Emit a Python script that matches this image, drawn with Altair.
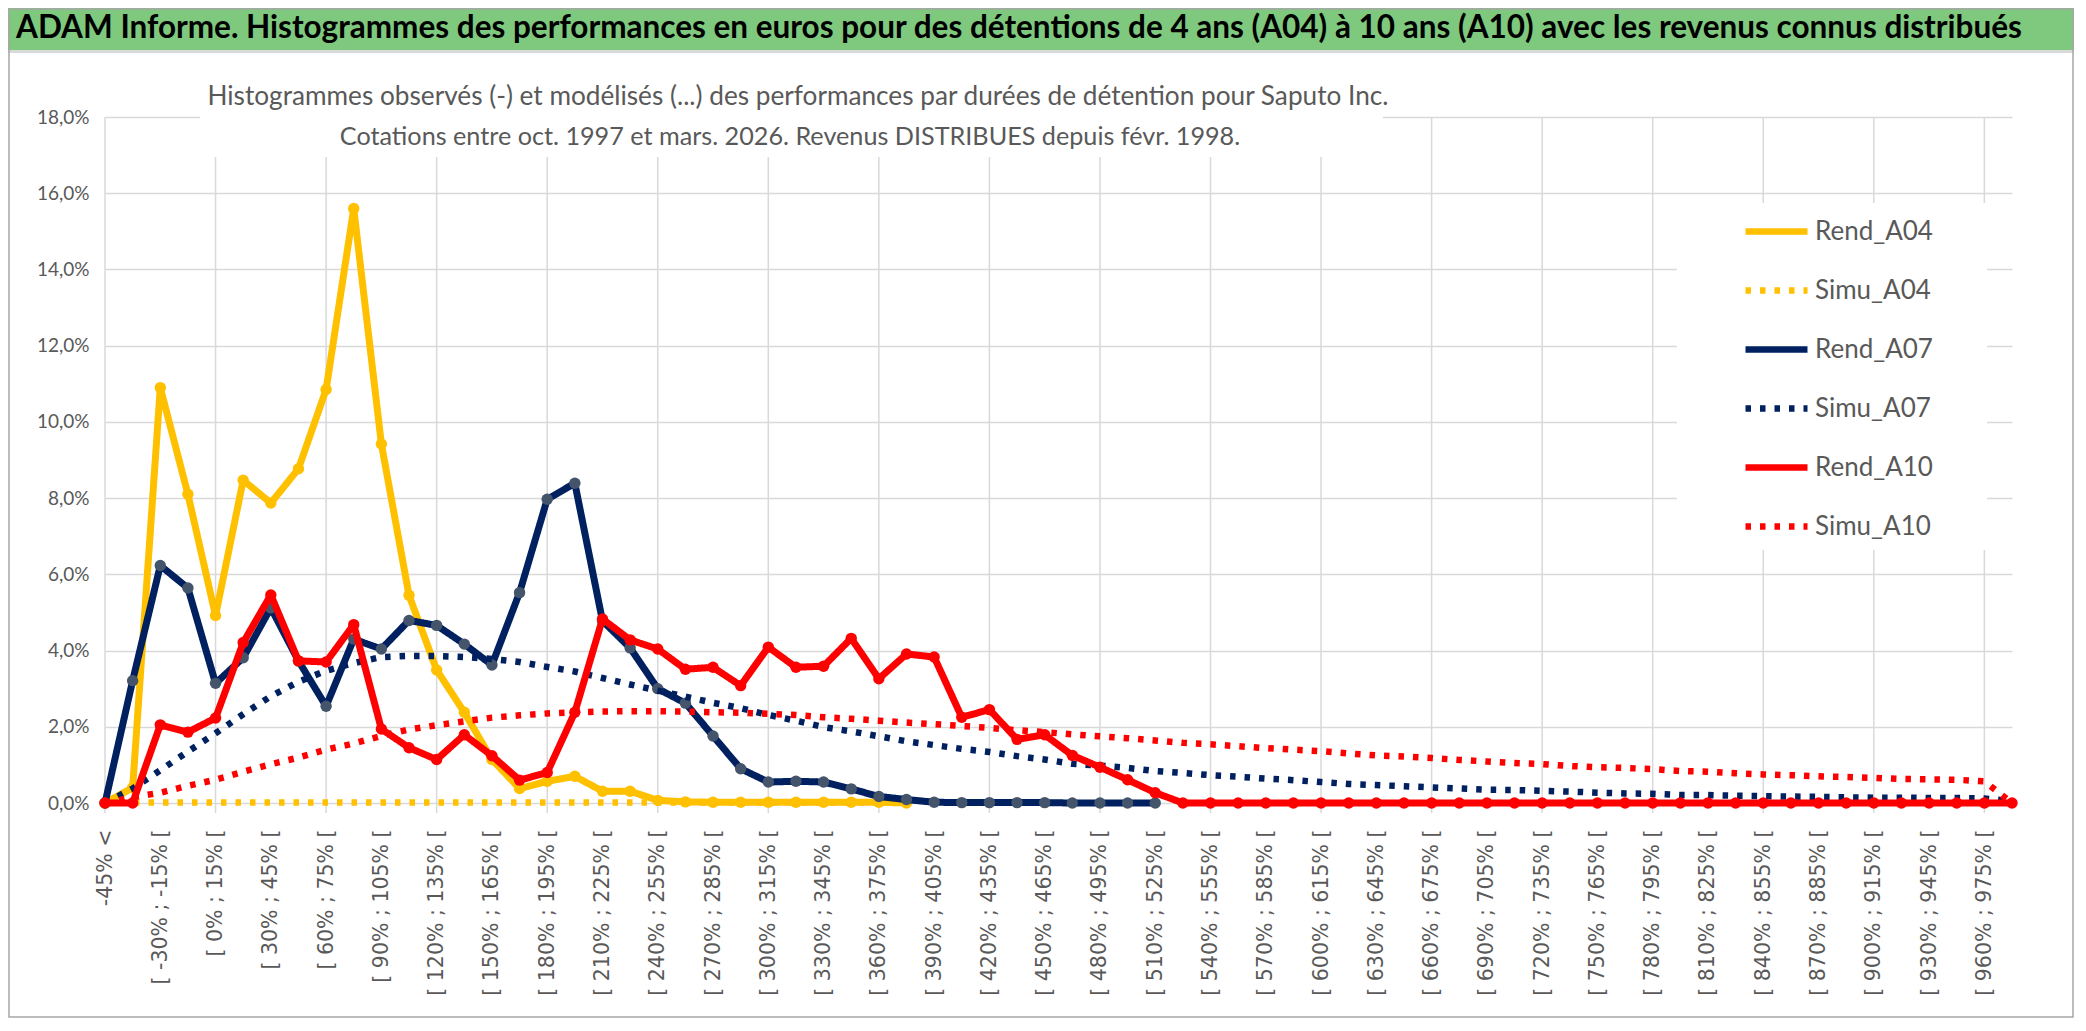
import altair as alt
import pandas as pd

# ---------------- data ----------------
categories = ["-45% <"] + [f"[ {a}% ; {a + 15}% [" for a in range(-45, 990, 15)]

rend_a04 = [0, 0.4, 10.9, 8.1, 4.92, 8.47, 7.87, 8.77, 10.85, 15.6,
            9.42, 5.45, 3.49, 2.38, 1.14, 0.38, 0.57, 0.70, 0.31, 0.31,
            0.07, 0.03, 0.02, 0.02, 0.02, 0.02, 0.02, 0.02, 0.02, 0.0]
simu_a04 = [0.01, 0.01, 0.01, 0.01, 0.01, 0.01, 0.01, 0.01, 0.01, 0.01,
            0.01, 0.01, 0.01, 0.01, 0.01, 0.01, 0.01, 0.01, 0.01, 0.01,
            0.01, 0.01, 0.01, 0.01, 0.01, 0.01, 0.01, 0.01, 0.01, 0.01]
rend_a07 = [0, 3.21, 6.23, 5.64, 3.14, 3.81, 5.12, 3.73, 2.54, 4.30,
            4.04, 4.79, 4.66, 4.17, 3.62, 5.52, 7.97, 8.39, 4.78, 4.07,
            3.0, 2.62, 1.76, 0.90, 0.55, 0.57, 0.55, 0.37, 0.17, 0.09,
            0.02, 0.01, 0.01, 0.01, 0.01, 0.0, 0.0, 0.0, 0.0]
simu_a07 = [0, 0.38, 0.86, 1.35, 1.83, 2.33, 2.80, 3.18, 3.47, 3.67,
            3.83, 3.86, 3.86, 3.83, 3.78, 3.70, 3.57, 3.45, 3.28, 3.11,
            2.95, 2.79, 2.63, 2.49, 2.31, 2.16, 1.99, 1.88, 1.75, 1.62,
            1.52, 1.42, 1.34, 1.23, 1.14, 1.03, 0.98, 0.92, 0.84, 0.79,
            0.73, 0.69, 0.64, 0.60, 0.55, 0.50, 0.47, 0.44, 0.41, 0.38,
            0.35, 0.34, 0.32, 0.30, 0.27, 0.25, 0.24, 0.21, 0.21, 0.19,
            0.18, 0.17, 0.16, 0.15, 0.14, 0.14, 0.13, 0.13, 0.12, 0.05]
rend_a10 = [0, 0, 2.05, 1.86, 2.23, 4.21, 5.46, 3.73, 3.70, 4.68,
            1.94, 1.45, 1.14, 1.79, 1.24, 0.60, 0.80, 2.38, 4.83, 4.28,
            4.04, 3.51, 3.56, 3.08, 4.09, 3.56, 3.59, 4.32, 3.26, 3.91,
            3.83, 2.25, 2.45, 1.67, 1.79, 1.25, 0.94, 0.61, 0.27, 0,
            0, 0, 0, 0, 0, 0, 0, 0, 0, 0,
            0, 0, 0, 0, 0, 0, 0, 0, 0, 0,
            0, 0, 0, 0, 0, 0, 0, 0, 0, 0]
simu_a10 = [0, 0.15, 0.27, 0.45, 0.61, 0.82, 1.02, 1.19, 1.40, 1.56,
            1.76, 1.93, 2.04, 2.14, 2.24, 2.30, 2.35, 2.38, 2.40, 2.41,
            2.41, 2.40, 2.38, 2.37, 2.34, 2.31, 2.25, 2.21, 2.16, 2.11,
            2.07, 2.02, 1.97, 1.91, 1.86, 1.80, 1.75, 1.70, 1.64, 1.58,
            1.54, 1.49, 1.44, 1.40, 1.36, 1.30, 1.25, 1.22, 1.18, 1.13,
            1.09, 1.05, 1.02, 0.97, 0.94, 0.92, 0.89, 0.84, 0.82, 0.78,
            0.75, 0.73, 0.70, 0.68, 0.66, 0.63, 0.62, 0.61, 0.57, 0.0]

series_names = ["Rend_A04", "Simu_A04", "Rend_A07", "Simu_A07", "Rend_A10", "Simu_A10"]
series_values = [rend_a04, simu_a04, rend_a07, simu_a07, rend_a10, simu_a10]
series_colors = ["#FFC000", "#FFC000", "#002060", "#002060", "#FF0000", "#FF0000"]
series_dash = [[1, 0], [5.5, 9], [1, 0], [5.5, 9], [1, 0], [5.5, 9]]
marker_colors = {"Rend_A04": "#FFC000", "Rend_A07": "#44546A", "Rend_A10": "#FF0000"}

title_banner = ("ADAM Informe. Histogrammes des performances en euros pour des détentions "
                "de 4 ans (A04) à 10 ans (A10) avec les revenus connus distribués")
subtitle_1 = ("Histogrammes observés (-) et modélisés (...) des performances par durées "
              "de détention pour Saputo Inc.")
subtitle_2 = "Cotations entre oct. 1997 et mars. 2026. Revenus DISTRIBUES depuis févr. 1998."

rows = []
for name, vals in zip(series_names, series_values):
    for i, v in enumerate(vals):
        rows.append({"cat": categories[i], "series": name, "value": v})
df = pd.DataFrame(rows)
grid_df = pd.DataFrame({"cat": categories[0::4]})
one = pd.DataFrame({"k": [0]})

# ---------------- layout ----------------
W, H = 1907, 686
PL, PT = 97, 109
TOTAL_W, TOTAL_H = 2066, 1010
GRAY = "#595959"

x_enc = alt.X(
    "cat:N", sort=categories,
    scale=alt.Scale(type="point", padding=0, domain=categories),
    axis=alt.Axis(values=categories[0::2], labelAngle=270, labelFont="DejaVu Sans",
                  labelFontSize=20.5, labelColor=GRAY, labelPadding=26, ticks=False,
                  domain=False, grid=False, title=None, labelOverlap=False, labelLimit=400),
)
y_enc = alt.Y(
    "value:Q",
    scale=alt.Scale(domain=[0, 18], nice=False),
    axis=alt.Axis(values=list(range(0, 19, 2)),
                  labelExpr="replace(format(datum.value, '.1f'), '.', ',') + '%'",
                  labelFont="Lato", labelFontSize=19, labelColor=GRAY, labelPadding=16,
                  ticks=False, domain=False, gridColor="#D9D9D9", gridWidth=1.5, title=None),
)

legend = alt.Legend(
    orient="none", legendX=1637, legendY=80, title=None, symbolType="stroke",
    symbolSize=3844, symbolStrokeWidth=6.5, labelFont="Lato", labelFontSize=26,
    labelColor=GRAY, labelOffset=4, padding=0, rowPadding=11,
)
color_enc = alt.Color("series:N", scale=alt.Scale(domain=series_names, range=series_colors),
                      legend=legend)
dash_enc = alt.StrokeDash("series:N", scale=alt.Scale(domain=series_names, range=series_dash),
                          legend=legend)

layers = []
layers.append(
    alt.Chart(grid_df).mark_rule(color="#D9D9D9", strokeWidth=1.5).encode(
        x=x_enc, y=alt.value(0), y2=alt.value(H + 10))
)
layers.append(alt.Chart(one).mark_rect(color="white").encode(
    x=alt.value(95), x2=alt.value(1278), y=alt.value(-40), y2=alt.value(40)))
layers.append(alt.Chart(one).mark_rect(color="white").encode(
    x=alt.value(1572), x2=alt.value(1882), y=alt.value(86), y2=alt.value(433)))

for name in series_names:
    sub = df[df["series"] == name]
    is_simu = name.startswith("Simu")
    layers.append(
        alt.Chart(sub).mark_line(strokeWidth=6.5 if is_simu else 7,
                                 strokeCap="butt" if is_simu else "round",
                                 strokeJoin="round").encode(
            x=x_enc, y=y_enc, color=color_enc, strokeDash=dash_enc)
    )
    if not is_simu:
        layers.append(
            alt.Chart(sub).mark_circle(size=130, opacity=1, color=marker_colors[name]).encode(
                x=x_enc, y=y_enc)
        )

layers.append(alt.Chart(one).mark_text(text=subtitle_1, font="Lato", fontSize=26.2, color=GRAY,
                                       align="center", baseline="middle").encode(
    x=alt.value(693), y=alt.value(-20)))
layers.append(alt.Chart(one).mark_text(text=subtitle_2, font="Lato", fontSize=25.2, color=GRAY,
                                       align="center", baseline="middle").encode(
    x=alt.value(685), y=alt.value(20)))

layers.append(alt.Chart(one).mark_rect(color="#7FC97F").encode(
    x=alt.value(-PL), x2=alt.value(TOTAL_W - PL), y=alt.value(-PT), y2=alt.value(-67)))
layers.append(alt.Chart(one).mark_rect(color="#D9D9D9").encode(
    x=alt.value(-PL), x2=alt.value(TOTAL_W - PL), y=alt.value(-67), y2=alt.value(-64)))
layers.append(alt.Chart(one).mark_text(text=title_banner, font="Lato", fontWeight="bold",
                                       fontSize=31.5, color="black", align="left",
                                       baseline="middle").encode(
    x=alt.value(-89), y=alt.value(-88)))
layers.append(alt.Chart(one).mark_rect(fillOpacity=0, stroke="#A6A6A6", strokeWidth=1.5).encode(
    x=alt.value(-PL + 1), x2=alt.value(TOTAL_W - PL - 1), y=alt.value(-PT + 1),
    y2=alt.value(TOTAL_H - PT - 1)))

chart = alt.layer(*layers).properties(
    width=W, height=H,
    padding={"left": PL, "top": PT, "right": TOTAL_W - PL - W, "bottom": TOTAL_H - PT - H},
    autosize=alt.AutoSizeParams(type="none"),
    background="white",
).configure_view(strokeWidth=0)

chart.save("out.html", embed_options={"renderer": "svg", "actions": False})
